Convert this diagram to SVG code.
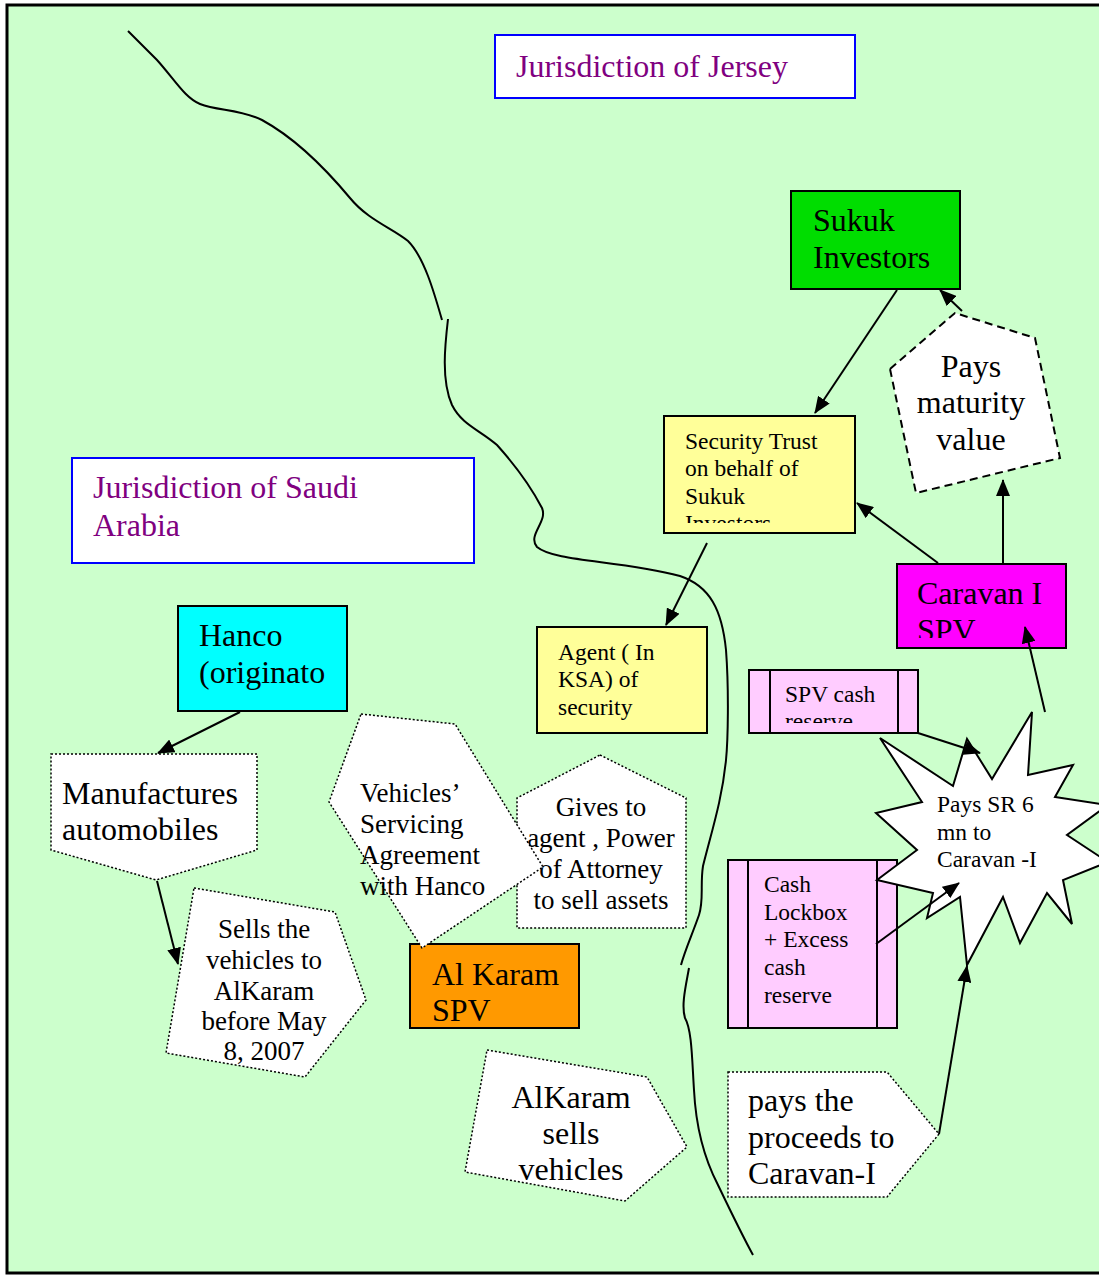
<svg xmlns="http://www.w3.org/2000/svg" width="1099" height="1276" viewBox="0 0 1099 1276">
<style>
text{font-family:"Liberation Serif","Times New Roman",serif;fill:#000}
.big{font-size:32px}
.mid{font-size:27px}
.sm{font-size:23.5px}
.jur{font-size:32px;fill:#800080}
.box{stroke:#000;stroke-width:2}
.jbox{fill:#fff;stroke:#0000FF;stroke-width:2}
.dot{fill:#fff;stroke:#000;stroke-width:1.5;stroke-dasharray:2 2}
.dash{fill:#fff;stroke:#000;stroke-width:2;stroke-dasharray:8 5}
.river{fill:none;stroke:#000;stroke-width:2}
.conn{fill:none;stroke:#000;stroke-width:2;marker-end:url(#ah)}
.c{text-anchor:middle}
</style>
<defs>
<marker id="ah" markerUnits="userSpaceOnUse" markerWidth="18" markerHeight="14" refX="16" refY="7" orient="auto">
<path d="M0,0 L17,7 L0,14 Z" fill="#000"/>
</marker>
<clipPath id="cpTrust"><rect x="664" y="416" width="191" height="107"/></clipPath>
<clipPath id="cpCaravan"><rect x="897" y="564" width="169" height="74"/></clipPath>
<clipPath id="cpKaram"><rect x="410" y="944" width="169" height="77"/></clipPath>
<clipPath id="cpSpvCash"><rect x="749" y="670" width="169" height="53"/></clipPath>
</defs>
<rect x="7" y="5" width="1100" height="1268" fill="#CCFFCC" stroke="#000" stroke-width="3"/>

<g id="rivers">
<path class="river" d="M128,31 L157,60 C175,80 185,98 200,104 C218,111 240,109 262,120 C295,138 325,168 350,198 C368,220 392,228 408,241 C424,257 434,292 442,320"/>
<path class="river" d="M448,319 C445,345 441,380 452,405 C462,425 480,430 497,445 C515,465 530,485 542,508 C548,522 527,535 537,547 C555,562 620,560 680,576 C710,586 722,610 726,650 C729,690 728,740 726,760 C722,800 712,830 703,866 C700,885 704,900 699,915 C692,935 685,950 681,965"/>
<path class="river" d="M689,968 C686,985 681,1005 685,1018 C692,1030 692,1060 694,1090 C696,1130 705,1160 718,1185 C730,1210 742,1235 753,1255"/>
</g>

<g id="jersey"><rect class="jbox" x="495" y="35" width="360" height="63"/><text class="jur" x="516" y="77">Jurisdiction of Jersey</text></g>
<g id="saudi"><rect class="jbox" x="72" y="458" width="402" height="105"/><text class="jur" x="93" y="498">Jurisdiction of  Saudi</text><text class="jur" x="93" y="536">Arabia</text></g>

<g id="sukuk-investors"><rect class="box" x="791" y="191" width="169" height="98" fill="#00DD00"/><text class="big" x="813" y="231">Sukuk</text><text class="big" x="813" y="268">Investors</text></g>

<g id="security-trust"><rect class="box" x="664" y="416" width="191" height="117" fill="#FFFF99"/><g clip-path="url(#cpTrust)"><text class="sm" x="685" y="449">Security Trust</text><text class="sm" x="685" y="476">on behalf of</text><text class="sm" x="685" y="504">Sukuk</text><text class="sm" x="685" y="531">Investors</text></g></g>

<g id="pays-maturity"><polygon class="dash" points="890,369 955,313 1035,338 1060,458 916,493"/><text class="big c" x="971" y="377">Pays</text><text class="big c" x="971" y="413">maturity</text><text class="big c" x="971" y="450">value</text></g>

<g id="caravan"><rect class="box" x="897" y="564" width="169" height="84" fill="#FF00FF"/><g clip-path="url(#cpCaravan)"><text class="big" x="917" y="604">Caravan I</text><text class="big" x="917" y="641">SPV</text></g></g>

<g id="agent"><rect class="box" x="537" y="627" width="170" height="106" fill="#FFFF99"/><text class="sm" x="558" y="660">Agent ( In</text><text class="sm" x="558" y="687">KSA) of</text><text class="sm" x="558" y="715">security</text></g>

<g id="hanco"><rect class="box" x="178" y="606" width="169" height="105" fill="#00FFFF"/><text class="big" x="199" y="646">Hanco</text><text class="big" x="199" y="683">(originato</text></g>

<g id="manufactures"><polygon class="dot" points="51,754 257,754 257,850 156,880 51,850"/><text class="big" x="62" y="804">Manufactures</text><text class="big" x="62" y="840">automobiles</text></g>

<g id="sells"><polygon class="dot" points="194,888 335,912 366,1000 305,1077 166,1053"/><text class="mid c" x="264" y="938">Sells the</text><text class="mid c" x="264" y="969">vehicles to</text><text class="mid c" x="264" y="1000">AlKaram</text><text class="mid c" x="264" y="1030">before May</text><text class="mid c" x="264" y="1060">8, 2007</text></g>

<g id="gives"><polygon class="dot" points="600,755 686,798 686,928 517,928 517,798"/><text class="mid c" x="601" y="816">Gives to</text><text class="mid c" x="601" y="847">agent , Power</text><text class="mid c" x="601" y="878">of Attorney</text><text class="mid c" x="601" y="909">to sell assets</text></g>

<g id="alkaram-spv"><rect class="box" x="410" y="944" width="169" height="84" fill="#FF9900"/><g clip-path="url(#cpKaram)"><text class="big" x="432" y="985">Al Karam</text><text class="big" x="432" y="1021">SPV</text></g></g>

<g id="servicing"><polygon class="dot" points="361,714 455,724 543,867 422,948 329,802"/><text class="mid" x="360" y="802">Vehicles’</text><text class="mid" x="360" y="833">Servicing</text><text class="mid" x="360" y="864">Agreement</text><text class="mid" x="360" y="895">with Hanco</text></g>

<g id="alkaram-sells"><polygon class="dot" points="487,1050 647,1077 687,1147 625,1201 465,1172"/><text class="big c" x="571" y="1108">AlKaram</text><text class="big c" x="571" y="1144">sells</text><text class="big c" x="571" y="1180">vehicles</text></g>

<g id="pays-proceeds"><polygon class="dot" points="728,1072 887,1072 939,1134 887,1197 728,1197"/><text class="big" x="748" y="1111">pays the</text><text class="big" x="748" y="1148">proceeds to</text><text class="big" x="748" y="1184">Caravan-I</text></g>

<g id="spv-cash"><rect class="box" x="749" y="670" width="169" height="63" fill="#FFCCFF"/><line x1="770" y1="670" x2="770" y2="733" stroke="#000" stroke-width="2"/><line x1="898" y1="670" x2="898" y2="733" stroke="#000" stroke-width="2"/><g clip-path="url(#cpSpvCash)"><text class="sm" x="785" y="702">SPV cash</text><text class="sm" x="785" y="729">reserve</text></g></g>

<g id="lockbox"><rect class="box" x="728" y="860" width="169" height="168" fill="#FFCCFF"/><line x1="748" y1="860" x2="748" y2="1028" stroke="#000" stroke-width="2"/><line x1="877" y1="860" x2="877" y2="1028" stroke="#000" stroke-width="2"/><text class="sm" x="764" y="892">Cash</text><text class="sm" x="764" y="920">Lockbox</text><text class="sm" x="764" y="947">+ Excess</text><text class="sm" x="764" y="975">cash</text><text class="sm" x="764" y="1003">reserve</text></g>

<g id="star"><polygon fill="#fff" stroke="#000" stroke-width="2" points="880,738 953,786 967,739 992,779 1032,712 1028,775 1073,765 1055,797 1108,805 1067,835 1108,862 1063,880 1072,924 1047,893 1020,943 1003,897 967,965 960,897 927,918 933,893 877,880 917,850 876,813 922,802"/><text class="sm" x="937" y="812">Pays SR 6</text><text class="sm" x="937" y="840">mn to</text><text class="sm" x="937" y="867">Caravan -I</text></g>

<g id="connectors">
<line class="conn" x1="897" y1="290" x2="815" y2="413"/>
<line class="conn" x1="962" y1="311" x2="940" y2="290"/>
<line class="conn" x1="938" y1="563" x2="857" y2="503"/>
<line class="conn" x1="1003" y1="563" x2="1003" y2="480"/>
<line class="conn" x1="707" y1="543" x2="666" y2="625"/>
<line class="conn" x1="1045" y1="712" x2="1025" y2="627"/>
<line class="conn" x1="240" y1="712" x2="158" y2="753"/>
<line class="conn" x1="157" y1="881" x2="178" y2="964"/>
<line class="conn" x1="918" y1="733" x2="980" y2="753"/>
<line class="conn" x1="876" y1="944" x2="959" y2="883"/>
<line class="conn" x1="939" y1="1134" x2="967" y2="966"/>
</g>
</svg>
